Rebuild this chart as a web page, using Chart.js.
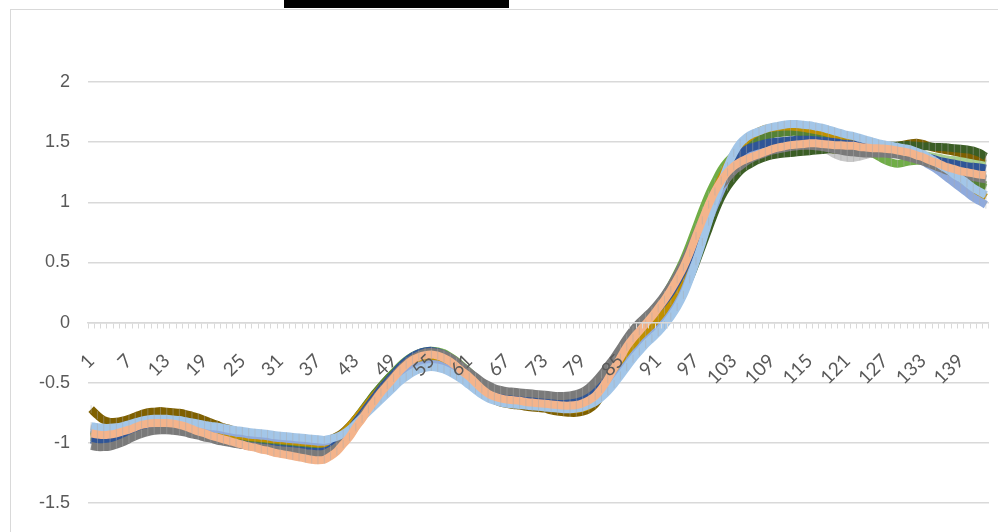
<!DOCTYPE html>
<html><head><meta charset="utf-8">
<script src="https://cdn.jsdelivr.net/npm/chart.js@4.4.1/dist/chart.umd.min.js"></script>
<style>
html,body{margin:0;padding:0;background:#fff;overflow:hidden;width:998px;height:532px;}
#frame{position:absolute;left:10px;top:9px;width:1200px;height:800px;border-left:1.5px solid #d9d9d9;border-top:1.5px solid #d9d9d9;}
#redact{position:absolute;left:284px;top:0;width:225px;height:8px;background:#000;}
#wrap{position:absolute;left:0;top:0;width:1024px;height:592px;}
</style></head><body>
<div id="frame"></div>
<div id="wrap"><canvas id="c" width="1024" height="592"></canvas></div>
<div id="redact"></div>
<script>
const categories = [1,2,3,4,5,6,7,8,9,10,11,12,13,14,15,16,17,18,19,20,21,22,23,24,25,26,27,28,29,30,31,32,33,34,35,36,37,38,39,40,41,42,43,44,45,46,47,48,49,50,51,52,53,54,55,56,57,58,59,60,61,62,63,64,65,66,67,68,69,70,71,72,73,74,75,76,77,78,79,80,81,82,83,84,85,86,87,88,89,90,91,92,93,94,95,96,97,98,99,100,101,102,103,104,105,106,107,108,109,110,111,112,113,114,115,116,117,118,119,120,121,122,123,124,125,126,127,128,129,130,131,132,133,134,135,136,137,138,139,140,141,142,143];
const xTickLabels = [1,7,13,19,25,31,37,43,49,55,61,67,73,79,85,91,97,103,109,115,121,127,133,139];
const yTicks = [-2,-1.5,-1,-0.5,0,0.5,1,1.5,2];

const peach = [
-0.92,-0.93,-0.935,-0.93,-0.92,-0.905,-0.89,-0.87,-0.85,-0.84,
-0.835,-0.835,-0.835,-0.84,-0.85,-0.865,-0.885,-0.905,-0.92,-0.94,
-0.955,-0.97,-0.985,-1.0,-1.015,-1.03,-1.04,-1.055,-1.065,-1.08,
-1.09,-1.1,-1.11,-1.12,-1.13,-1.14,-1.145,-1.14,-1.11,-1.07,
-1.01,-0.95,-0.87,-0.8,-0.72,-0.65,-0.58,-0.52,-0.46,-0.4,
-0.35,-0.31,-0.285,-0.27,-0.265,-0.275,-0.295,-0.325,-0.365,-0.41,
-0.45,-0.5,-0.55,-0.59,-0.615,-0.63,-0.64,-0.645,-0.65,-0.66,
-0.665,-0.67,-0.675,-0.68,-0.685,-0.69,-0.69,-0.685,-0.67,-0.645,
-0.61,-0.55,-0.47,-0.38,-0.29,-0.2,-0.13,-0.07,-0.01,0.05,
0.12,0.19,0.27,0.36,0.46,0.58,0.72,0.85,0.98,1.09,
1.18,1.25,1.3,1.335,1.36,1.38,1.4,1.42,1.44,1.455,
1.465,1.475,1.48,1.485,1.49,1.49,1.485,1.48,1.475,1.475,
1.47,1.47,1.46,1.455,1.45,1.45,1.445,1.44,1.43,1.42,
1.41,1.39,1.375,1.35,1.33,1.31,1.29,1.275,1.26,1.25,
1.24,1.23,1.225];

const lightBlue = [
-0.86,-0.87,-0.875,-0.875,-0.87,-0.86,-0.845,-0.83,-0.815,-0.805,
-0.8,-0.8,-0.8,-0.805,-0.81,-0.82,-0.83,-0.84,-0.85,-0.86,
-0.865,-0.875,-0.885,-0.895,-0.9,-0.91,-0.915,-0.92,-0.925,-0.935,
-0.94,-0.945,-0.95,-0.955,-0.96,-0.965,-0.97,-0.975,-0.965,-0.95,
-0.925,-0.89,-0.84,-0.79,-0.74,-0.69,-0.64,-0.59,-0.54,-0.49,
-0.45,-0.415,-0.39,-0.375,-0.37,-0.375,-0.39,-0.415,-0.445,-0.48,
-0.52,-0.56,-0.6,-0.63,-0.65,-0.665,-0.675,-0.68,-0.685,-0.69,
-0.695,-0.7,-0.705,-0.71,-0.715,-0.72,-0.72,-0.715,-0.705,-0.685,
-0.66,-0.62,-0.57,-0.51,-0.44,-0.37,-0.3,-0.24,-0.18,-0.13,
-0.08,-0.02,0.05,0.13,0.23,0.36,0.51,0.67,0.84,1.01,
1.16,1.3,1.41,1.49,1.54,1.57,1.59,1.61,1.625,1.635,
1.645,1.65,1.65,1.645,1.64,1.63,1.62,1.605,1.59,1.575,
1.56,1.55,1.535,1.52,1.505,1.49,1.48,1.47,1.46,1.45,
1.44,1.42,1.4,1.37,1.34,1.3,1.27,1.23,1.2,1.16,
1.12,1.09,1.06];

const gray = [
-1.025,-1.035,-1.035,-1.03,-1.015,-0.995,-0.97,-0.945,-0.925,-0.91,
-0.9,-0.895,-0.895,-0.9,-0.905,-0.915,-0.93,-0.94,-0.955,-0.965,
-0.98,-0.99,-1.0,-1.01,-1.015,-1.025,-1.03,-1.04,-1.045,-1.055,
-1.06,-1.065,-1.07,-1.075,-1.085,-1.09,-1.095,-1.09,-1.065,-1.03,
-0.98,-0.92,-0.85,-0.78,-0.71,-0.64,-0.575,-0.51,-0.45,-0.39,
-0.34,-0.3,-0.27,-0.25,-0.245,-0.25,-0.265,-0.29,-0.325,-0.37,
-0.41,-0.45,-0.49,-0.52,-0.545,-0.56,-0.57,-0.575,-0.58,-0.585,
-0.59,-0.595,-0.6,-0.605,-0.61,-0.61,-0.605,-0.595,-0.575,-0.54,
-0.49,-0.43,-0.36,-0.29,-0.21,-0.13,-0.06,0.0,0.05,0.1,
0.16,0.23,0.31,0.4,0.5,0.61,0.73,0.85,0.96,1.06,
1.14,1.2,1.26,1.3,1.34,1.37,1.39,1.41,1.43,1.44,
1.45,1.46,1.465,1.47,1.47,1.465,1.46,1.45,1.44,1.43,
1.42,1.415,1.41,1.405,1.405,1.405,1.405,1.4,1.395,1.385,
1.37,1.355,1.34,1.32,1.3,1.28,1.26,1.245,1.23,1.22,
1.21,1.2,1.19];

const darkBlue = [
-0.97,-0.985,-0.99,-0.985,-0.97,-0.955,-0.935,-0.915,-0.9,-0.89,
-0.88,-0.875,-0.875,-0.88,-0.89,-0.9,-0.915,-0.93,-0.945,-0.96,
-0.975,-0.985,-0.995,-1.005,-1.015,-1.025,-1.03,-1.035,-1.04,-1.045,
-1.05,-1.055,-1.06,-1.065,-1.07,-1.075,-1.075,-1.07,-1.05,-1.01,
-0.96,-0.9,-0.83,-0.76,-0.69,-0.62,-0.55,-0.49,-0.43,-0.37,
-0.32,-0.28,-0.255,-0.24,-0.235,-0.245,-0.265,-0.295,-0.335,-0.38,
-0.43,-0.47,-0.51,-0.545,-0.57,-0.59,-0.6,-0.61,-0.615,-0.62,
-0.625,-0.63,-0.635,-0.64,-0.645,-0.65,-0.65,-0.645,-0.63,-0.6,
-0.56,-0.5,-0.43,-0.35,-0.27,-0.19,-0.12,-0.06,0.0,0.06,
0.12,0.18,0.25,0.34,0.44,0.56,0.69,0.82,0.95,1.07,
1.17,1.25,1.34,1.4,1.44,1.46,1.475,1.49,1.5,1.505,
1.51,1.515,1.52,1.52,1.52,1.515,1.51,1.505,1.5,1.49,
1.485,1.48,1.475,1.47,1.46,1.455,1.45,1.445,1.44,1.43,
1.415,1.4,1.385,1.37,1.355,1.34,1.33,1.32,1.31,1.3,
1.295,1.29,1.28];

const paleBlue = [
-0.88,-0.89,-0.895,-0.895,-0.89,-0.88,-0.865,-0.85,-0.835,-0.825,
-0.82,-0.82,-0.82,-0.825,-0.83,-0.84,-0.85,-0.86,-0.87,-0.88,
-0.885,-0.895,-0.905,-0.915,-0.92,-0.93,-0.935,-0.94,-0.945,-0.955,
-0.96,-0.965,-0.97,-0.975,-0.98,-0.985,-0.99,-0.99,-0.98,-0.96,
-0.93,-0.89,-0.84,-0.78,-0.72,-0.66,-0.6,-0.55,-0.5,-0.45,
-0.41,-0.38,-0.36,-0.35,-0.345,-0.35,-0.37,-0.395,-0.43,-0.47,
-0.51,-0.55,-0.585,-0.615,-0.635,-0.65,-0.66,-0.665,-0.67,-0.675,
-0.68,-0.685,-0.69,-0.695,-0.7,-0.705,-0.705,-0.7,-0.69,-0.67,
-0.64,-0.6,-0.55,-0.49,-0.42,-0.35,-0.28,-0.22,-0.16,-0.11,
-0.06,0.0,0.07,0.15,0.25,0.38,0.53,0.69,0.85,0.98,
1.1,1.21,1.3,1.36,1.4,1.43,1.45,1.47,1.48,1.49,
1.495,1.5,1.5,1.5,1.5,1.495,1.49,1.485,1.48,1.475,
1.47,1.465,1.46,1.455,1.45,1.44,1.43,1.42,1.41,1.395,
1.38,1.36,1.34,1.31,1.28,1.24,1.2,1.16,1.12,1.08,
1.04,1.01,0.98];

const gold = [
-0.9,-0.91,-0.915,-0.91,-0.9,-0.885,-0.87,-0.855,-0.84,-0.83,
-0.825,-0.825,-0.825,-0.83,-0.84,-0.85,-0.86,-0.875,-0.885,-0.895,
-0.905,-0.915,-0.925,-0.935,-0.94,-0.95,-0.955,-0.96,-0.965,-0.97,
-0.975,-0.98,-0.985,-0.99,-0.995,-1.0,-1.005,-1.005,-0.99,-0.96,
-0.92,-0.865,-0.8,-0.735,-0.67,-0.605,-0.545,-0.49,-0.44,-0.395,
-0.36,-0.335,-0.32,-0.315,-0.315,-0.325,-0.345,-0.375,-0.41,-0.45,
-0.49,-0.53,-0.57,-0.6,-0.625,-0.64,-0.65,-0.66,-0.665,-0.675,
-0.68,-0.69,-0.695,-0.705,-0.71,-0.715,-0.72,-0.72,-0.71,-0.69,
-0.65,-0.6,-0.53,-0.45,-0.37,-0.29,-0.22,-0.15,-0.09,-0.03,
0.03,0.1,0.18,0.27,0.38,0.5,0.64,0.79,0.94,1.08,
1.2,1.31,1.4,1.47,1.52,1.56,1.59,1.61,1.62,1.625,
1.63,1.63,1.625,1.62,1.61,1.6,1.59,1.575,1.56,1.545,
1.53,1.515,1.5,1.49,1.48,1.47,1.46,1.45,1.44,1.43,
1.415,1.4,1.38,1.35,1.32,1.28,1.24,1.2,1.165,1.13,
1.1,1.07,1.04];

const green = [
-0.89,-0.9,-0.905,-0.9,-0.89,-0.875,-0.86,-0.85,-0.84,-0.84,
-0.845,-0.85,-0.855,-0.86,-0.87,-0.88,-0.89,-0.9,-0.91,-0.92,
-0.93,-0.94,-0.95,-0.96,-0.965,-0.975,-0.98,-0.99,-0.995,-1.0,
-1.005,-1.01,-1.015,-1.02,-1.025,-1.03,-1.035,-1.03,-1.01,-0.98,
-0.93,-0.87,-0.8,-0.73,-0.66,-0.59,-0.53,-0.47,-0.42,-0.37,
-0.33,-0.3,-0.285,-0.28,-0.285,-0.3,-0.32,-0.35,-0.385,-0.43,
-0.47,-0.51,-0.55,-0.58,-0.6,-0.615,-0.625,-0.63,-0.635,-0.64,
-0.645,-0.65,-0.655,-0.66,-0.665,-0.67,-0.67,-0.665,-0.655,-0.635,
-0.61,-0.57,-0.51,-0.44,-0.37,-0.3,-0.24,-0.18,-0.12,-0.06,
0.0,0.06,0.13,0.21,0.3,0.42,0.55,0.7,0.85,1.0,
1.13,1.25,1.34,1.41,1.46,1.5,1.53,1.55,1.565,1.575,
1.58,1.585,1.585,1.58,1.575,1.57,1.56,1.55,1.54,1.53,
1.52,1.51,1.5,1.49,1.48,1.47,1.46,1.45,1.44,1.43,
1.415,1.4,1.38,1.36,1.33,1.3,1.27,1.24,1.21,1.19,
1.17,1.155,1.14];

const darkGreen = [
-0.95,-0.96,-0.965,-0.96,-0.95,-0.935,-0.915,-0.9,-0.885,-0.875,
-0.87,-0.87,-0.87,-0.875,-0.885,-0.895,-0.91,-0.925,-0.94,-0.955,
-0.965,-0.98,-0.99,-1.0,-1.01,-1.02,-1.03,-1.035,-1.045,-1.05,
-1.055,-1.06,-1.065,-1.07,-1.075,-1.08,-1.085,-1.08,-1.06,-1.02,
-0.97,-0.91,-0.84,-0.77,-0.7,-0.63,-0.57,-0.51,-0.46,-0.41,
-0.37,-0.34,-0.32,-0.315,-0.32,-0.33,-0.35,-0.38,-0.42,-0.46,
-0.5,-0.54,-0.58,-0.61,-0.63,-0.645,-0.655,-0.66,-0.665,-0.67,
-0.675,-0.68,-0.685,-0.69,-0.695,-0.7,-0.7,-0.695,-0.685,-0.665,
-0.635,-0.59,-0.53,-0.46,-0.39,-0.32,-0.26,-0.2,-0.14,-0.09,
-0.04,0.02,0.09,0.17,0.26,0.37,0.5,0.64,0.78,0.92,
1.04,1.13,1.2,1.26,1.3,1.33,1.355,1.375,1.39,1.4,
1.405,1.41,1.415,1.42,1.425,1.43,1.435,1.44,1.44,1.445,
1.45,1.455,1.455,1.46,1.46,1.465,1.465,1.47,1.47,1.475,
1.475,1.47,1.465,1.465,1.46,1.46,1.455,1.45,1.445,1.44,
1.43,1.41,1.38];

const olive = [
-0.72,-0.77,-0.81,-0.825,-0.825,-0.815,-0.8,-0.78,-0.76,-0.745,
-0.74,-0.735,-0.74,-0.745,-0.75,-0.76,-0.775,-0.79,-0.81,-0.83,
-0.85,-0.87,-0.885,-0.9,-0.91,-0.92,-0.93,-0.935,-0.94,-0.95,
-0.955,-0.96,-0.965,-0.97,-0.975,-0.98,-0.985,-0.985,-0.97,-0.945,
-0.91,-0.86,-0.8,-0.74,-0.68,-0.62,-0.56,-0.5,-0.45,-0.4,
-0.36,-0.33,-0.31,-0.3,-0.3,-0.31,-0.33,-0.36,-0.4,-0.44,
-0.49,-0.54,-0.58,-0.62,-0.645,-0.665,-0.675,-0.685,-0.69,-0.7,
-0.705,-0.71,-0.715,-0.73,-0.74,-0.745,-0.75,-0.75,-0.74,-0.72,
-0.68,-0.6,-0.52,-0.43,-0.34,-0.25,-0.17,-0.1,-0.04,0.02,
0.08,0.15,0.23,0.32,0.42,0.54,0.67,0.8,0.93,1.05,
1.15,1.23,1.29,1.33,1.36,1.38,1.4,1.41,1.42,1.43,
1.44,1.445,1.45,1.455,1.455,1.455,1.45,1.445,1.44,1.44,
1.435,1.435,1.44,1.44,1.445,1.45,1.455,1.46,1.47,1.48,
1.49,1.495,1.485,1.465,1.45,1.44,1.43,1.42,1.41,1.4,
1.39,1.38,1.37];

const lightGreen = [
-0.935,-0.945,-0.95,-0.945,-0.935,-0.92,-0.9,-0.88,-0.865,-0.855,
-0.85,-0.85,-0.85,-0.855,-0.865,-0.88,-0.895,-0.91,-0.925,-0.94,
-0.955,-0.965,-0.98,-0.99,-1.0,-1.015,-1.025,-1.035,-1.045,-1.055,
-1.065,-1.075,-1.08,-1.09,-1.095,-1.1,-1.105,-1.1,-1.075,-1.035,
-0.98,-0.915,-0.845,-0.775,-0.7,-0.63,-0.565,-0.505,-0.45,-0.395,
-0.345,-0.305,-0.28,-0.265,-0.26,-0.27,-0.29,-0.32,-0.36,-0.405,
-0.45,-0.495,-0.54,-0.575,-0.6,-0.615,-0.625,-0.635,-0.64,-0.645,
-0.65,-0.655,-0.66,-0.665,-0.67,-0.675,-0.675,-0.67,-0.655,-0.63,
-0.59,-0.53,-0.45,-0.36,-0.27,-0.19,-0.12,-0.06,0.0,0.06,
0.13,0.2,0.28,0.37,0.47,0.59,0.72,0.85,0.97,1.08,
1.17,1.24,1.29,1.33,1.36,1.38,1.4,1.415,1.43,1.44,
1.45,1.455,1.46,1.465,1.47,1.47,1.47,1.47,1.465,1.465,
1.46,1.46,1.455,1.45,1.45,1.445,1.44,1.435,1.43,1.425,
1.415,1.405,1.395,1.385,1.375,1.365,1.355,1.35,1.345,1.34,
1.335,1.33,1.32];

const brightGreen = [
-0.91,-0.92,-0.925,-0.92,-0.91,-0.895,-0.875,-0.86,-0.845,-0.835,
-0.83,-0.83,-0.83,-0.835,-0.845,-0.86,-0.875,-0.89,-0.905,-0.92,
-0.935,-0.95,-0.96,-0.975,-0.985,-0.995,-1.005,-1.015,-1.025,-1.035,
-1.04,-1.05,-1.055,-1.06,-1.065,-1.07,-1.075,-1.07,-1.045,-1.005,
-0.95,-0.885,-0.815,-0.74,-0.665,-0.595,-0.53,-0.47,-0.415,-0.36,
-0.315,-0.28,-0.255,-0.24,-0.235,-0.24,-0.255,-0.285,-0.32,-0.365,
-0.41,-0.46,-0.505,-0.545,-0.575,-0.595,-0.61,-0.62,-0.625,-0.63,
-0.635,-0.64,-0.645,-0.65,-0.655,-0.66,-0.66,-0.655,-0.64,-0.615,
-0.575,-0.515,-0.44,-0.355,-0.27,-0.185,-0.11,-0.045,0.02,0.08,
0.15,0.22,0.31,0.41,0.52,0.65,0.79,0.93,1.06,1.17,
1.27,1.34,1.39,1.42,1.44,1.455,1.465,1.475,1.48,1.485,
1.49,1.495,1.5,1.5,1.5,1.495,1.49,1.48,1.47,1.46,
1.46,1.45,1.44,1.425,1.405,1.38,1.35,1.33,1.32,1.33,
1.34,1.345,1.345,1.34,1.33,1.31,1.28,1.25,1.22,1.19,
1.165,1.14,1.12];

const silver = [
-0.94,-0.95,-0.955,-0.95,-0.94,-0.925,-0.905,-0.885,-0.87,-0.86,
-0.855,-0.855,-0.855,-0.86,-0.87,-0.885,-0.9,-0.915,-0.93,-0.945,
-0.96,-0.975,-0.99,-1.0,-1.015,-1.025,-1.035,-1.05,-1.06,-1.07,
-1.08,-1.09,-1.1,-1.11,-1.12,-1.125,-1.13,-1.125,-1.1,-1.06,
-1.0,-0.94,-0.865,-0.795,-0.72,-0.65,-0.58,-0.52,-0.46,-0.405,
-0.355,-0.315,-0.29,-0.275,-0.27,-0.28,-0.3,-0.33,-0.37,-0.415,
-0.455,-0.5,-0.545,-0.58,-0.605,-0.62,-0.63,-0.635,-0.64,-0.65,
-0.655,-0.66,-0.665,-0.67,-0.675,-0.68,-0.68,-0.675,-0.66,-0.635,
-0.6,-0.54,-0.46,-0.37,-0.28,-0.19,-0.12,-0.06,0.0,0.06,
0.13,0.2,0.28,0.37,0.47,0.59,0.72,0.85,0.97,1.08,
1.17,1.24,1.29,1.33,1.36,1.385,1.405,1.425,1.44,1.455,
1.465,1.47,1.475,1.475,1.47,1.46,1.445,1.43,1.4,1.38,
1.37,1.37,1.38,1.395,1.41,1.415,1.42,1.42,1.415,1.41,
1.4,1.385,1.37,1.35,1.33,1.31,1.29,1.27,1.255,1.24,
1.225,1.21,1.2];

// drawing order: first listed is drawn on top
const seriesList = [
  {name:'S1', data: peach, color:'#F4B48C'},
  {name:'S2', data: lightBlue, color:'#A3C6E8'},
  {name:'S3', data: gray, color:'#7A7A7A'},
  {name:'S4', data: darkBlue, color:'#2F5597'},
  {name:'S5', data: paleBlue, color:'#8FAADC'},
  {name:'S6', data: gold, color:'#BF9000'},
  {name:'S7', data: green, color:'#548235'},
  {name:'S8', data: darkGreen, color:'#3B5E25'},
  {name:'S9', data: olive, color:'#7F6000'},
  {name:'S10', data: lightGreen, color:'#A9D18E'},
  {name:'S11', data: brightGreen, color:'#70AD47'},
  {name:'S12', data: silver, color:'#C9C9C9'}
];

const datasets = seriesList.map(s => ({
  label: s.name,
  data: s.data,
  borderColor: s.color,
  backgroundColor: s.color,
  borderWidth: 8,
  tension: 0.35,
  fill: false,
  pointStyle: 'line',
  pointRotation: 90,
  pointRadius: 4,
  pointBorderWidth: 1,
  pointBorderColor: 'rgba(170,170,170,0.45)',
  pointHoverRadius: 0
}));

new Chart(document.getElementById('c'), {
  type: 'line',
  data: { labels: categories, datasets },
  options: {
    responsive: false,
    animation: false,
    devicePixelRatio: 1,
    layout: { padding: { top: 82, right: 9, bottom: 18, left: 0 } },
    plugins: { legend: { display: false }, tooltip: { enabled: false }, title: { display: false } },
    scales: {
      x: {
        type: 'category',
        position: { y: 0 },
        offset: true,
        grid: { z: 1, drawOnChartArea: false, drawTicks: true, tickLength: 5, color: '#d9d9d9', lineWidth: 1, offset: true },
        border: { z: 1, display: true, color: '#d9d9d9', width: 1.5 },
        ticks: {
          z: 1,
          autoSkip: false,
          minRotation: 45,
          maxRotation: 45,
          padding: 22,
          color: '#595959',
          font: { family: 'Lato, "Liberation Sans", sans-serif', size: 19 },
          callback: function(v, i) { const c = categories[i]; return xTickLabels.includes(c) ? String(c) : ''; }
        }
      },
      y: {
        min: -2, max: 2,
        afterBuildTicks: (s) => { s.ticks = yTicks.map(v => ({ value: v })); },
        afterFit: (s) => { s.width = 88; },
        grid: { color: '#d9d9d9', lineWidth: 1.5, drawTicks: false },
        border: { display: false },
        ticks: {
          padding: 18,
          color: '#595959',
          font: { family: '"Liberation Sans", Arial, sans-serif', size: 18 },
          callback: (v) => String(v)
        }
      }
    }
  }
});
</script>
</body></html>
